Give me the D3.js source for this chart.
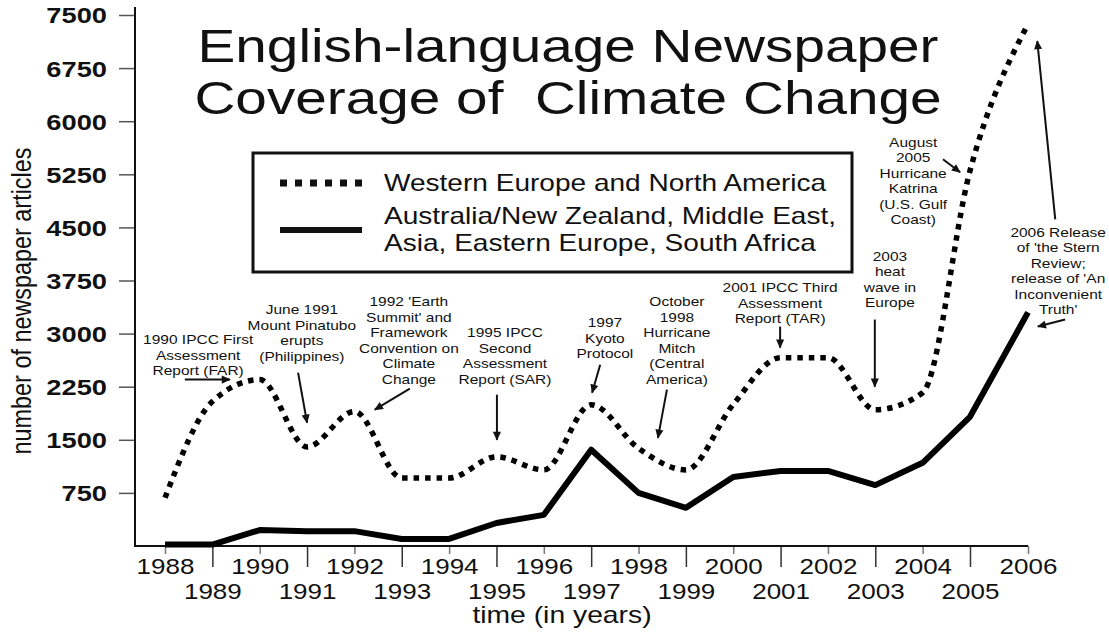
<!DOCTYPE html>
<html>
<head>
<meta charset="utf-8">
<script src="https://cdn.jsdelivr.net/npm/d3@7"></script>
<style>
body { margin: 0; background: #fff; }
text { font-family: "Liberation Sans", Arial, sans-serif; fill: #111; }
</style>
</head>
<body>
<div id="chart"></div>
<script>
/*global d3 */
var years = [1988, 1989, 1990, 1991, 1992, 1993, 1994, 1995, 1996, 1997,
             1998, 1999, 2000, 2001, 2002, 2003, 2004, 2005, 2006];

// Western Europe and North America
var westernEuropeNorthAmerica = [680, 2040, 2350, 1400, 1900, 960, 960, 1260, 1075, 1995,
                                 1380, 1075, 2000, 2660, 2660, 1925, 2165, 5300, 7370];

// Australia/New Zealand, Middle East, Asia, Eastern Europe, South Africa
var otherRegions = [20, 20, 225, 210, 210, 100, 100, 325, 440, 1360,
                    750, 540, 975, 1060, 1060, 860, 1175, 1825, 3300];

var yTicks = [750, 1500, 2250, 3000, 3750, 4500, 5250, 6000, 6750, 7500];

var titleLines = ["English-language Newspaper", "Coverage of  Climate Change"];
var legendLabels = [["Western Europe and North America"],
                    ["Australia/New Zealand, Middle East,", "Asia, Eastern Europe, South Africa"]];

// event notes, placed in data space (year, articles)
var notes = [
    {lines: ["1990 IPCC First", "Assessment", "Report (FAR)"], year: 1988.70, value: 2915,
     from: [1988.42, 2350], to: [1989.37, 2350]},
    {lines: ["June 1991", "Mount Pinatubo", "erupts", "(Philippines)"], year: 1990.89, value: 3340,
     from: [1990.81, 2448], to: [1991.0, 1741]},
    {lines: ["1992 'Earth", "Summit' and", "Framework", "Convention on", "Climate", "Change"], year: 1993.15, value: 3453,
     from: [1993.17, 2222], to: [1992.43, 1925]},
    {lines: ["1995 IPCC", "Second", "Assessment", "Report (SAR)"], year: 1995.18, value: 3014,
     from: [1995.01, 2137], to: [1995.01, 1500]},
    {lines: ["1997", "Kyoto", "Protocol"], year: 1997.29, value: 3156,
     from: [1997.19, 2561], to: [1997.02, 2165]},
    {lines: ["October", "1998", "Hurricane", "Mitch", "(Central", "America)"], year: 1998.81, value: 3453,
     from: [1998.60, 2208], to: [1998.41, 1528]},
    {lines: ["2001 IPCC Third", "Assessment", "Report (TAR)"], year: 2000.99, value: 3651,
     from: [2000.99, 3099], to: [2000.99, 2802]},
    {lines: ["2003", "heat", "wave in", "Europe"], year: 2003.31, value: 4090,
     from: [2002.99, 3198], to: [2002.99, 2250]},
    {lines: ["August", "2005", "Hurricane", "Katrina", "(U.S. Gulf", "Coast)"], year: 2003.80, value: 5703,
     from: [2004.43, 5462], to: [2004.79, 5278]},
    {lines: ["2006 Release", "of 'the Stern", "Review;", "release of 'An", "Inconvenient", "Truth'"], year: 2006.52, value: 4429,
     from: [2006.47, 4613], to: [2006.16, 7132]},
    {lines: [], from: [2006.64, 3198], to: [2006.17, 3099]}
];

function createCoverage(container) {
    "use strict";

    var width = 1109,
        height = 634,
        sx = 1.22,   // the reference type is drawn wide

        svg = container.append("svg")
            .attr("width", width)
            .attr("height", height),

        x = d3.scaleLinear()
            .domain([1988, 2005, 2006])
            .range([165, 970, 1028]),
        y = d3.scaleLinear()
            .domain([0, 7500])
            .range([546, 15]),

        dotted = d3.line()
            .x(function (d, i) { return x(years[i]); })
            .y(function (d) { return y(d); })
            .curve(d3.curveMonotoneX),
        solid = d3.line()
            .x(function (d, i) { return x(years[i]); })
            .y(function (d) { return y(d); });

    function wideText(px, py, str, size, anchor, weight) {
        return svg.append("text")
            .attr("transform", "translate(" + px + "," + py + ") scale(" + sx + ",1)")
            .attr("text-anchor", anchor || "start")
            .style("font-size", size + "px")
            .style("font-weight", weight || "normal")
            .style("white-space", "pre")
            .text(str);
    }

    svg.append("defs").append("marker")
        .attr("id", "head")
        .attr("viewBox", "0 -5 10 10")
        .attr("refX", 9).attr("refY", 0)
        .attr("markerUnits", "userSpaceOnUse")
        .attr("markerWidth", 10).attr("markerHeight", 9)
        .attr("orient", "auto")
        .append("path")
        .attr("d", "M0,-4.5L10,0L0,4.5Z")
        .attr("fill", "#111");

    // Title
    titleLines.forEach(function (t, i) {
        wideText(568, 62 + i * 52, t, 46.5, "middle");
    });

    // Y axis
    var yAxis = svg.append("g")
        .attr("transform", "translate(135,0)")
        .call(d3.axisLeft(y).tickValues(yTicks).tickFormat(d3.format("d"))
            .tickSize(16).tickSizeOuter(0));
    yAxis.select(".domain").remove();
    yAxis.selectAll(".tick line").attr("stroke", "#555").attr("stroke-width", 1.5);
    yAxis.selectAll(".tick text")
        .attr("x", null).attr("dy", "0.36em")
        .attr("transform", "translate(-28,0) scale(1.24,1)")
        .attr("fill", "#111")
        .style("font-family", "'Liberation Sans', Arial, sans-serif")
        .style("font-size", "22px")
        .style("font-weight", "bold");
    svg.append("line")
        .attr("x1", 135).attr("x2", 135)
        .attr("y1", 7).attr("y2", y(0) + 1)
        .attr("stroke", "#111").attr("stroke-width", 2);

    // X axis: odd years sit on a second row with longer ticks
    var xAxis = svg.append("g")
        .attr("transform", "translate(0," + y(0) + ")")
        .call(d3.axisBottom(x).tickValues(years).tickFormat(d3.format("d")).tickSize(8).tickSizeOuter(0));
    xAxis.select(".domain").remove();
    xAxis.selectAll(".tick").each(function (d) {
        var odd = d % 2 === 1,
            tick = d3.select(this);
        tick.select("line")
            .attr("y2", odd ? 21 : 8)
            .attr("stroke", odd ? "#333" : "#777")
            .attr("stroke-width", 1.5);
        tick.select("text")
            .attr("y", null).attr("dy", null)
            .attr("transform", "translate(0," + (odd ? 53 : 28) + ") scale(1.21,1)")
            .attr("fill", "#111")
            .style("font-family", "'Liberation Sans', Arial, sans-serif")
            .style("font-size", "21.5px");
    });
    svg.append("line")
        .attr("x1", 134).attr("x2", x(2006))
        .attr("y1", y(0)).attr("y2", y(0))
        .attr("stroke", "#111").attr("stroke-width", 2);

    // Axis titles
    wideText(562, 623, "time (in years)", 23.2, "middle");
    svg.append("text")
        .attr("transform", "translate(31,301) scale(" + sx + ",1) rotate(-90)")
        .attr("text-anchor", "middle")
        .style("font-size", "23.4px")
        .text("number of newspaper articles");

    // Legend
    svg.append("rect")
        .attr("x", 253).attr("y", 153)
        .attr("width", 599).attr("height", 119)
        .attr("fill", "none")
        .attr("stroke", "#111").attr("stroke-width", 3);
    svg.append("line")
        .attr("x1", 280).attr("x2", 364).attr("y1", 183).attr("y2", 183)
        .attr("stroke", "#111").attr("stroke-width", 7)
        .attr("stroke-dasharray", "7,8");
    svg.append("line")
        .attr("x1", 280).attr("x2", 362).attr("y1", 230).attr("y2", 230)
        .attr("stroke", "#111").attr("stroke-width", 6);
    legendLabels[0].forEach(function (t) { wideText(384, 191, t, 23, "start"); });
    legendLabels[1].forEach(function (t, i) { wideText(384, 224 + i * 27, t, 23, "start"); });

    // Series
    svg.append("path")
        .datum(otherRegions)
        .attr("fill", "none")
        .attr("stroke", "#000")
        .attr("stroke-width", 6)
        .attr("stroke-linejoin", "round")
        .attr("d", solid);

    svg.append("path")
        .datum(westernEuropeNorthAmerica)
        .attr("fill", "none")
        .attr("stroke", "#000")
        .attr("stroke-width", 5.5)
        .attr("stroke-dasharray", "5.5,6")
        .attr("d", dotted);

    // Event notes and arrows
    notes.forEach(function (n) {
        n.lines.forEach(function (t, i) {
            wideText(x(n.year), y(n.value) + 4.5 + i * 15.5, t, 12.7, "middle")
                .attr("fill", "#222");
        });
        svg.append("line")
            .attr("x1", x(n.from[0])).attr("y1", y(n.from[1]))
            .attr("x2", x(n.to[0])).attr("y2", y(n.to[1]))
            .attr("stroke", "#111").attr("stroke-width", 2)
            .attr("marker-end", "url(#head)");
    });
}

createCoverage(d3.select("#chart"));
</script>
</body>
</html>
